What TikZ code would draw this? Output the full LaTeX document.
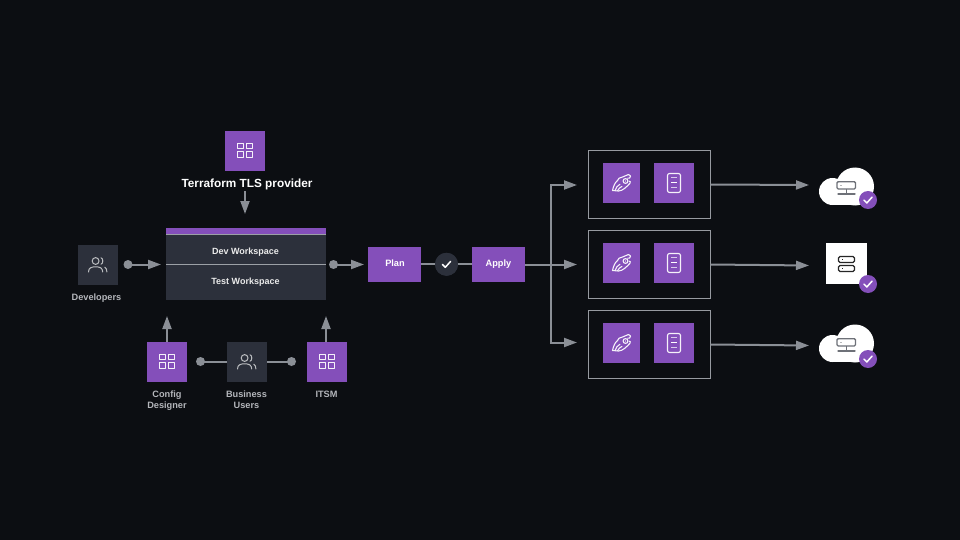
\documentclass[tikz,border=0pt]{standalone}
\usepackage{fontspec}
\setmainfont{Liberation Sans}
\usetikzlibrary{arrows.meta}
\definecolor{bgc}{HTML}{0C0E12}
\definecolor{purp}{HTML}{844FBA}
\definecolor{darkb}{HTML}{2C303B}
\definecolor{linec}{HTML}{8B8F96}
\definecolor{lblc}{HTML}{B4B6BB}
\definecolor{icong}{HTML}{6E7178}
\tikzset{
  x=1pt,y=-1pt,
  purpbox/.style={draw=none,fill=purp,minimum width=40pt,minimum height=40pt,inner sep=0pt,outer sep=0pt},
  darkbox/.style={draw=none,fill=darkb,minimum width=40pt,minimum height=40pt,inner sep=0pt,outer sep=0pt},
  actbox/.style={draw=none,fill=purp,minimum width=53pt,minimum height=34.5pt,inner sep=0pt,outer sep=0pt},
  acttext/.style={text=white,font=\fontsize{9.2}{10}\selectfont\bfseries,inner sep=0pt},
  framebox/.style={draw=linec!90!white,line width=1.1pt,fill=none,minimum width=122pt,minimum height=68pt,inner sep=0pt,outer sep=0pt},
  wslabel/.style={text=white!92!black,font=\fontsize{9}{10}\selectfont\bfseries,inner sep=0pt},
  lbl/.style={text=lblc,font=\fontsize{9.2}{11}\selectfont\bfseries,align=center,inner sep=0pt},
  dotn/.style={circle,fill=linec,draw=none,minimum size=9pt,inner sep=0pt,outer sep=0pt},
  conn/.style={draw=linec,line width=2pt},
  arr/.style={conn,-{Triangle[length=13pt,width=9pt]}},
  checkn/.style={circle,fill=purp,draw=none,minimum size=18pt,inner sep=0pt,outer sep=0pt},
  iconln/.style={draw=white!92!purp,line width=1.1pt,line cap=round,line join=round},
  peopleln/.style={draw=white!68!darkb,line width=1pt,line cap=round},
  pics/gridicon/.style={code={
    \foreach \xa/\ya in {-7.2/-7.9,1.5/-7.9,-7.2/0.8,1.5/0.8}
      \draw[iconln] (\xa,\ya) rectangle ++(5.7,5.7);
  }},
  pics/peopleicon/.style={code={
    \draw[peopleln] (-2.4,-4) circle[radius=3.4];
    \draw[peopleln] (-9.5,7) .. controls (-9.5,2.8) and (-6.5,1.8) .. (-2.4,1.8) .. controls (1.7,1.8) and (4.7,2.8) .. (4.7,7);
    \draw[peopleln] (3,-7.2) .. controls (5.4,-6.5) and (5.4,-1.5) .. (3,-0.8);
    \draw[peopleln] (6.8,2.2) .. controls (8.2,3) and (8.9,4.6) .. (8.9,7);
  }},
  pics/wrenchicon/.style={code={
    \draw[iconln] (-9,7.5) -- (-3,8) .. controls (1,8) and (5,4) .. (8.5,0.2) .. controls (9.2,-1) and (8.8,-2.2) .. (7.6,-1.8);
    \draw[iconln] (-9,7.5) .. controls (-8,3) and (-6.5,-0.5) .. (-4,-2.5) .. controls (-3.5,-4.5) and (-2,-5.5) .. (1,-6) -- (7,-8.5) -- (9,-7) -- (8.2,-5) -- (6.2,-4.8);
    \draw[iconln] (-6.5,7.5) .. controls (-5.5,4.5) and (-4,2.5) .. (-1.5,1.2);
    \draw[iconln] (-4,7.7) .. controls (-3,5.5) and (-1.5,4.5) .. (0.5,3.4);
    \draw[iconln] (4,-2) circle[radius=2.4];
    \fill[white] (4,-2) circle[radius=0.7];
  }},
  pics/docicon/.style={code={
    \draw[iconln,rounded corners=2pt] (-6.5,-9.5) rectangle (6.5,9.5);
    \draw[draw=white!70!purp,line width=1.4pt] (-3,-5.5) -- (3,-5.5);
    \draw[draw=white,line width=1.2pt] (-3,-0.5) -- (3,-0.5);
    \draw[draw=white!70!purp,line width=1.4pt] (-3,4.5) -- (3,4.5);
  }},
  pics/tick/.style={code={
    \draw[draw=white,line width=1.5pt,line cap=round,line join=round] (-4,0.2) -- (-1.2,3) -- (4,-2.8);
  }},
  pics/cloudshape/.style={code={
    \fill[white] (-42.5,10.5) circle[radius=13.5] (-20,5.5) circle[radius=19];
    \fill[white] (-42.5,12) rectangle (-20,24);
    \draw[draw=icong,line width=1.3pt,rounded corners=1.2pt] (-38,0.7) rectangle (-19.5,8);
    \draw[draw=icong,line width=1.3pt] (-28.7,8) -- (-28.7,13);
    \draw[draw=icong,line width=1.3pt,line cap=round] (-37,13) -- (-20,13);
    \fill[icong!50!white] (-35.5,3.5) rectangle (-33,5);
  }},
}
\begin{document}
\begin{tikzpicture}
\useasboundingbox[fill=bgc] (0,0) rectangle (960,540);

% Terraform provider
\node[purpbox] (tf) at (245,151) {};
\pic at (tf.center) {gridicon};
\node[text=white,font=\fontsize{11.8}{13}\selectfont\bfseries,inner sep=0pt] (tflabel) at (247,184) {Terraform TLS provider};

% Workspaces
\node[fill=darkb,minimum width=159.5pt,minimum height=72pt,inner sep=0pt,outer sep=0pt] (ws) at (245.75,264) {};
\fill[purp] (ws.north west) rectangle ([yshift=-6pt]ws.north east);
\draw[draw=linec!85!white,line width=1pt] ([yshift=-6.5pt]ws.north west) -- ([yshift=-6.5pt]ws.north east);
\draw[draw=linec!85!white,line width=1pt] (ws.west) ++(0,0.5) -- ++(159.5,0);
\node[wslabel] (dev) at (245.5,251.7) {Dev Workspace};
\node[wslabel] (test) at (245.5,281.7) {Test Workspace};

% Developers
\node[darkbox] (devs) at (98,265) {};
\pic at (devs.center) {peopleicon};
\node[lbl] (devlbl) at (96.5,298) {Developers};

% Bottom row
\node[purpbox] (cfg) at (167,362) {};
\pic at (cfg.center) {gridicon};
\node[lbl] (cfglbl) at (167,400.2) {Config\\Designer};
\node[darkbox] (biz) at (247,362) {};
\pic at (biz.center) {peopleicon};
\node[lbl] (bizlbl) at (246.5,399.8) {Business\\Users};
\node[purpbox] (itsm) at (327,362) {};
\pic at (itsm.center) {gridicon};
\node[lbl] (itsmlbl) at (326.5,394.7) {ITSM};

% Plan / Apply
\node[actbox] (plan) at (394.5,264.3) {};
\node[acttext] (plant) at (395,263.7) {Plan};
\node[actbox] (apply) at (498.5,264.3) {};
\node[acttext] (applyt) at (498.5,264.5) {Apply};
\node[circle,fill=darkb,minimum size=23pt,inner sep=0pt,outer sep=0pt] (chk) at (446.5,264.3) {};

% Frames
\foreach \n/\y in {a/184.5,b/264.5,c/344.5}{
  \node[framebox] (frame\n) at (649.5,\y) {};
  \node[purpbox,minimum width=37.5pt] (wr\n) at (621.5,\y-1.5) {};
  \pic at (wr\n.center) {wrenchicon};
  \node[purpbox] (doc\n) at (674,\y-1.5) {};
  \pic at (doc\n.center) {docicon};
}

% Targets
\coordinate (cl1) at (875,181);
\pic at (cl1) {cloudshape};
\node[fill=white,minimum width=41pt,minimum height=41pt,inner sep=0pt,outer sep=0pt] (srv) at (846.5,263.5) {};
\draw[draw=black!85,line width=1.1pt,rounded corners=1.5pt] (838.5,256.5) rectangle (854.5,262.5);
\draw[draw=black!85,line width=1.1pt,rounded corners=1.5pt] (838.5,265.5) rectangle (854.5,271.5);
\fill[black!85] (841.5,259) rectangle (842.7,260.2);
\fill[black!85] (841.5,268) rectangle (842.7,269.2);
\coordinate (cl3) at (875,338);
\pic at (cl3) {cloudshape};
\node[checkn] (c1) at (868,200) {};
\pic at (c1.center) {tick};
\node[checkn] (c2) at (868,284) {};
\pic at (c2.center) {tick};
\node[checkn] (c3) at (868,359) {};
\pic at (c3.center) {tick};

% Connectors
\coordinate (tftip) at (245,214);
\coordinate (tfstart) at (245,191);
\draw[arr] (tfstart) -- (tftip);

\node[dotn] (d1) at (128,264.5) {};
\coordinate (d1tip) at (161,264.5);
\draw[arr] (d1.center) -- (d1tip);

\node[dotn] (d2) at (333.5,264.5) {};
\coordinate (d2tip) at (364,264.5);
\draw[arr] (d2.center) -- (d2tip);

\coordinate (cfgtip) at (167,316);
\draw[arr] (cfg.north) -- (cfgtip);
\coordinate (itsmtip) at (326,316);
\draw[arr] (itsm.north -| itsmtip) -- (itsmtip);

\node[dotn] (d3) at (200.5,361.5) {};
\node[dotn] (d4) at (291.5,361.5) {};
\draw[conn] (d3.center) -- (biz.west |- d3);
\draw[conn] (d4.center) -- (biz.east |- d4);

\draw[conn] (plan.east) -- (chk.center);
\draw[conn] (chk.center) -- (apply.west);
\fill[darkb] (chk.center) circle[radius=11.5];
\pic at (chk.center) {tick};

\coordinate (bus) at (551,264.5);
\coordinate (t1) at (577,185);
\coordinate (t2) at (577,264.5);
\coordinate (t3) at (577,342.5);
\draw[arr] (apply.east |- bus) -- (t2);
\draw[arr] (bus) |- (t1);
\draw[arr] (bus) |- (t3);

\coordinate (e1) at (809,185);
\coordinate (e2) at (809,265.5);
\coordinate (e3) at (809,345.5);
\draw[arr] (framea.east) -- (e1);
\draw[arr] (frameb.east) -- (e2);
\draw[arr] (framec.east) -- (e3);
\end{tikzpicture}
\end{document}
